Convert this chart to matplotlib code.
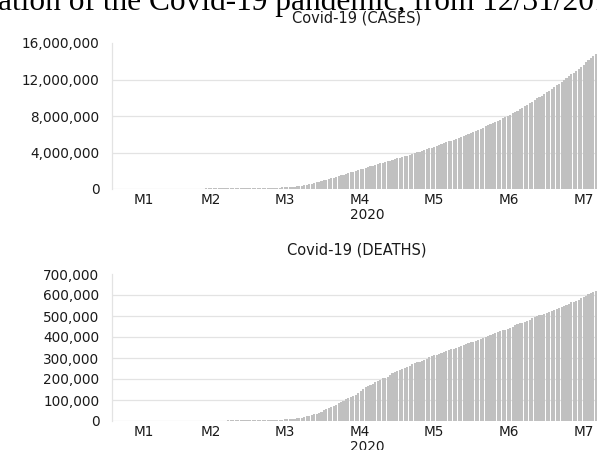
import numpy as np
import matplotlib
matplotlib.use("Agg")
import matplotlib.pyplot as plt
from matplotlib.ticker import FuncFormatter

# categories: months of 2020, daily bars (January series starts on the 6th)
month_labels = ["M1", "M2", "M3", "M4", "M5", "M6", "M7"]
days_per_month = [26, 29, 31, 30, 31, 30, 31]
year_label = "2020"

# cumulative cases, thousands (one value per day)
cases_k = [
    0.04, 0.04, 0.04, 0.04, 0.04, 0.04, 0.04, 0.04, 0.04, 0.04, 0.05, 0.06, 0.08,
    0.14, 0.28, 0.44, 0.58, 0.85, 1.3, 2.0, 2.8, 4.6, 6.0, 7.8, 9.8, 11.9,
    # Feb
    14.5, 17.3, 20.6, 24.6, 28.3, 31.5, 34.4, 37.1, 40.2, 42.8, 44.8, 45.2, 60.4,
    66.9, 69.1, 71.2, 73.3, 75.2, 75.6, 76.2, 77.0, 78.6, 79.0, 79.6, 80.4, 81.4,
    82.7, 84.1, 86.0,
    # Mar
    88.4, 90.3, 92.8, 95.1, 97.9, 101.8, 105.8, 109.8, 114.0, 118.6, 125.9, 128.3,
    145.2, 156.1, 167.5, 181.5, 197.1, 214.9, 242.7, 272.2, 304.5, 335.9, 378.2,
    418.0, 467.6, 529.6, 593.3, 660.7, 720.1, 782.4, 857.5,
    # Apr
    932.6, 1013, 1096, 1176, 1250, 1320, 1396, 1480, 1566, 1657, 1735, 1835, 1905,
    1976, 2056, 2152, 2240, 2317, 2402, 2472, 2549, 2624, 2708, 2811, 2897, 2971,
    3041, 3117, 3194, 3256,
    # May
    3343, 3427, 3506, 3583, 3662, 3755, 3845, 3938, 4024, 4101, 4177, 4261, 4347,
    4442, 4541, 4634, 4713, 4801, 4897, 5001, 5107, 5210, 5307, 5403, 5495, 5589,
    5695, 5817, 5936, 6057, 6167,
    # Jun
    6266, 6367, 6484, 6612, 6738, 6871, 6985, 7089, 7210, 7343, 7479, 7606, 7742,
    7873, 8000, 8140, 8283, 8434, 8599, 8760, 8902, 9044, 9207, 9380, 9560, 9750,
    9925, 10086, 10241, 10413,
    # Jul
    10584, 10776, 10982, 11172, 11362, 11520, 11690, 11901, 12115, 12340, 12558,
    12747, 12940, 13145, 13377, 13612, 13864, 14107, 14326, 14536, 14745, 15010,
    15292, 15577, 15838, 16073, 16292, 16536, 16814, 17106, 17397,
]

# cumulative deaths
deaths = [
    0, 0, 0, 0, 0, 1, 1, 1, 1, 2, 2, 2, 3, 3, 6, 9, 17, 25, 41, 56, 80, 106, 132,
    170, 213, 259,
    # Feb
    305, 362, 426, 492, 565, 638, 724, 813, 910, 1018, 1115, 1261, 1383, 1526, 1669,
    1775, 1873, 2009, 2126, 2247, 2360, 2460, 2618, 2699, 2763, 2800, 2858, 2923, 2977,
    # Mar
    3050, 3117, 3202, 3285, 3387, 3494, 3599, 3827, 4011, 4293, 4616, 4981, 5435,
    5822, 6521, 7172, 7986, 8939, 10046, 11365, 13126, 14774, 16555, 18930, 21797,
    24363, 28246, 31902, 35369, 39563, 44332,
    # Apr
    50284, 56020, 62236, 67594, 72641, 77210, 83365, 89950, 96079, 102652, 108602,
    113983, 119438, 125869, 134125, 144093, 153821, 159539, 165069, 170339, 177497,
    184256, 190873, 196824, 202717, 206888, 211159, 217246, 227638, 233388,
    # May
    238999, 244555, 248371, 251936, 257779, 264145, 269813, 275230, 279716, 283328,
    286868, 291942, 297197, 302418, 307666, 312024, 315185, 318731, 323285, 328115,
    333401, 338160, 342097, 345059, 346700, 351906, 356124, 361815, 366812, 371166,
    374378,
    # Jun
    377460, 381497, 386878, 392199, 397313, 401607, 404396, 407600, 412236, 417418,
    422136, 426841, 431164, 434535, 437952, 444662, 449919, 454979, 460246, 464693,
    468589, 472171, 477584, 482804, 489922, 495060, 499623, 502690, 506279, 511210,
    # Jul
    516210, 521298, 526120, 530844, 534215, 537776, 543421, 549018, 554488, 559481,
    564520, 568402, 572131, 577556, 584060, 589545, 596397, 603178, 608181, 612211,
    618017, 625064, 631706, 638255, 644539, 649140, 653006, 659028, 665742, 672217,
    678337,
]

cases = [v * 1000 for v in cases_k]

BAR = "#c0c0c0"
GRID = "#e3e3e3"
TXT = "#1a1a1a"
FS = 9.8

W, H = 597, 450
fig = plt.figure(figsize=(W / 100, H / 100), dpi=100)

# cropped caption of the page above the charts
fig.text(-0.004, 1 - 10 / H, "ation of the Covid-19 pandemic, from 12/31/2019",
         fontfamily="Liberation Serif", fontsize=22.6, ha="left", va="baseline",
         color="black")


def panel(rect, values, ymax, step, title, title_xy, year_dy):
    ax = fig.add_axes(rect)
    n = len(values)
    x = np.arange(n)
    ax.bar(x, values, width=0.85, color=BAR, linewidth=0)
    ax.set_xlim(-0.5, n - 0.5)
    ax.set_ylim(0, ymax)
    ax.set_yticks(np.arange(0, ymax + 1, step))
    ax.yaxis.set_major_formatter(FuncFormatter(lambda v, p: f"{v:,.0f}"))
    ax.grid(axis="y", color=GRID, linewidth=0.9)
    ax.yaxis.get_gridlines()[-1].set_visible(False)
    ax.set_axisbelow(True)
    for s in ["top", "right", "bottom"]:
        ax.spines[s].set_visible(False)
    ax.spines["left"].set_color(GRID)
    ax.spines["left"].set_linewidth(0.9)

    starts = np.cumsum([0] + days_per_month[:-1])
    centers = [s + (d - 1) / 2 for s, d in zip(starts, days_per_month)]
    ax.set_xticks(centers)
    ax.set_xticklabels(month_labels)
    ax.tick_params(axis="x", length=0, pad=3, labelsize=FS, labelcolor=TXT)
    ax.tick_params(axis="y", length=0, pad=9, labelsize=FS, labelcolor=TXT)

    ax.annotate(year_label, xy=((n - 1) / 2, 0), xycoords=ax.get_xaxis_transform(),
                xytext=(0, year_dy), textcoords="offset points",
                ha="center", va="center", fontsize=FS, color=TXT)
    fig.text(title_xy[0] / W, 1 - title_xy[1] / H, title, ha="center", va="center",
             fontsize=FS + 0.7, color=TXT)
    return ax


n_days = len(cases)
px_day = 2.45
ax_w = n_days * px_day / W

panel([112 / W, (H - 189) / H, ax_w, 146 / H], cases, 16_000_000, 4_000_000,
      "Covid-19 (CASES)", (357, 18), -18.5)
panel([112 / W, (H - 421) / H, ax_w, 147 / H], deaths, 700_000, 100_000,
      "Covid-19 (DEATHS)", (357, 250), -19)

fig.savefig("out.png", dpi=100)
